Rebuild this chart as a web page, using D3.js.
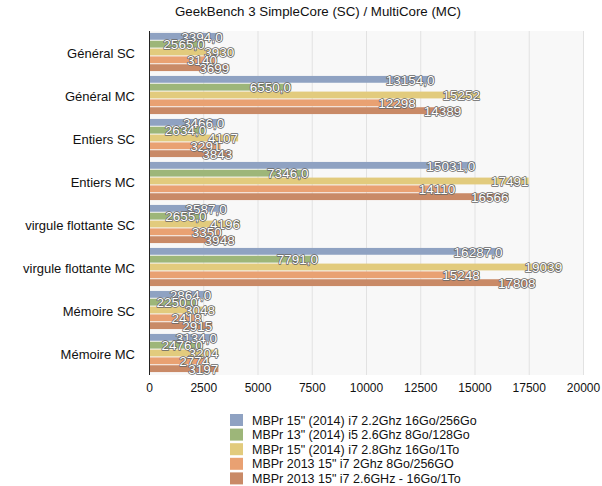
<!DOCTYPE html>
<html>
<head>
<meta charset="utf-8">
<script src="https://cdn.jsdelivr.net/npm/d3@7"></script>
<style>
body{margin:0;background:#fff;}
svg{display:block;font-family:"Liberation Sans",Arial,Helvetica,sans-serif;}
</style>
</head>
<body>
<svg id="chart" width="602" height="486"></svg>
<script>
const categories = ["Général SC","Général MC","Entiers SC","Entiers MC","virgule flottante SC","virgule flottante MC","Mémoire SC","Mémoire MC"];
const seriesNames = [
  "MBPr 15\" (2014) i7 2.2Ghz 16Go/256Go",
  "MBPr 13\" (2014) i5 2.6Ghz 8Go/128Go",
  "MBPr 15\" (2014) i7 2.8Ghz 16Go/1To",
  "MBPr 2013 15\" i7 2Ghz 8Go/256GO",
  "MBPr 2013 15\" i7 2.6GHz - 16Go/1To"
];
const s1 = [3394,13154,3466,15031,3587,16287,2864,3134];
const s2 = [2565,6550,2634,7346,2655,7791,2250,2476];
const s3 = [3930,15252,4107,17491,4196,19039,3048,3204];
const s4 = [3140,12298,3291,14110,3350,15248,2418,2774];
const s5 = [3699,14389,3843,16566,3948,17808,2915,3197];
const xTicks = [0,2500,5000,7500,10000,12500,15000,17500,20000];
const colors = ["#8fa2c2","#9db679","#e2cb7d","#e9a172","#c98a67"];
const decimalFmt = [true,true,false,false,false];

(function(){
const seriesValues = [s1,s2,s3,s4,s5];
const svg = d3.select("#chart");
const pl = 149, pr = 583, pt = 31, pb = 375;

const x = d3.scaleLinear().domain([0,20000]).range([pl,pr]);
const y = d3.scaleBand().domain(categories).range([pt,pb]).paddingInner(0.09).paddingOuter(0.045);
const ySub = d3.scaleBand().domain(d3.range(5)).range([0,y.bandwidth()]);

svg.append("text").attr("x",318).attr("y",16).attr("text-anchor","middle")
  .attr("font-size",13.3).attr("fill","#111").text("GeekBench 3 SimpleCore (SC) / MultiCore (MC)");

svg.append("rect").attr("x",pl).attr("y",pt).attr("width",pr-pl).attr("height",pb-pt).attr("fill","#f8f8f8");

svg.append("g").selectAll("line").data(xTicks.slice(1)).join("line")
  .attr("x1",d=>x(d)+0.5).attr("x2",d=>x(d)+0.5).attr("y1",pt).attr("y2",pb)
  .attr("stroke","#e2e2e2").attr("stroke-width",1);

const groups = svg.append("g").selectAll("g").data(categories).join("g")
  .attr("transform",c=>`translate(0,${y(c)})`);
groups.each(function(c,ci){
  const g = d3.select(this);
  seriesValues.forEach((vals,si)=>{
    g.append("rect").attr("x",x(0)).attr("y",ySub(si))
      .attr("width",x(vals[ci])-x(0)).attr("height",ySub.bandwidth()-1)
      .attr("fill",colors[si]);
  });
});
groups.each(function(c,ci){
  const g = d3.select(this);
  seriesValues.forEach((vals,si)=>{
    const txt = decimalFmt[si] ? vals[ci] + ",0" : String(vals[ci]);
    g.append("text").attr("x",x(vals[ci])).attr("y",ySub(si)+ySub.bandwidth()/2+4.8)
      .attr("text-anchor","end").attr("font-size",13.5)
      .attr("fill","#fff").attr("stroke","#666").attr("stroke-width",1.5)
      .attr("paint-order","stroke").attr("stroke-linejoin","round")
      .text(txt);
  });
});

svg.append("line").attr("x1",pl+0.5).attr("x2",pl+0.5).attr("y1",pt).attr("y2",pb)
  .attr("stroke","#222").attr("stroke-width",1);

svg.append("g").selectAll("text").data(categories).join("text")
  .attr("x",135).attr("y",c=>y(c)+y.bandwidth()/2+5).attr("text-anchor","end")
  .attr("font-size",13).attr("fill","#111").text(c=>c);

const xAxis = d3.axisBottom(x).tickValues(xTicks).tickSize(0).tickPadding(8).tickFormat(d=>String(d));
const ax = svg.append("g").attr("transform",`translate(0,${pb})`).call(xAxis);
ax.select(".domain").remove();
ax.selectAll("text").attr("font-size",12).attr("fill","#111").attr("font-family","Liberation Sans, Arial, sans-serif");

const leg = svg.append("g").selectAll("g").data(seriesNames).join("g")
  .attr("transform",(d,i)=>`translate(230,${414+i*14.6})`);
leg.append("rect").attr("width",13).attr("height",12).attr("fill",(d,i)=>colors[i]);
leg.append("text").attr("x",22).attr("y",10.5).attr("font-size",12.5).attr("fill","#111").text(d=>d);
})();
</script>
</body>
</html>
